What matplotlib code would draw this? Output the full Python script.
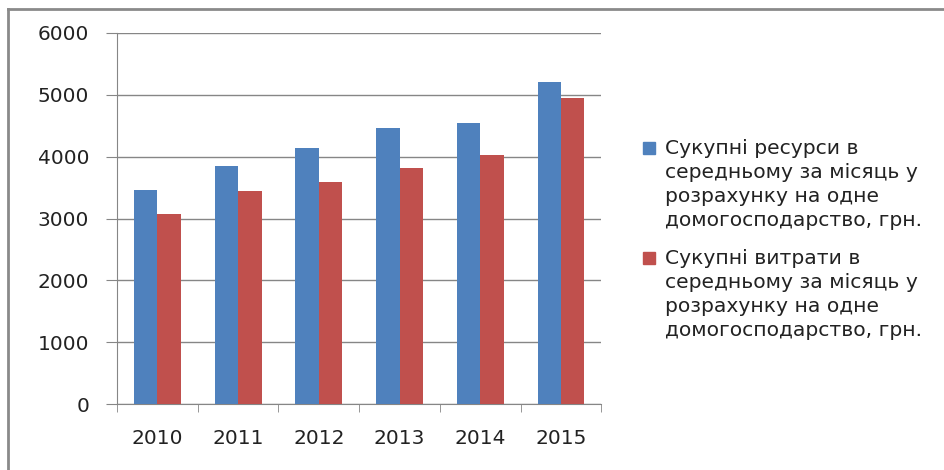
import numpy as np
import matplotlib.pyplot as plt
from matplotlib.lines import Line2D
from matplotlib.patches import Rectangle

years = ['2010', '2011', '2012', '2013', '2014', '2015']
resources = [3460, 3850, 4140, 4470, 4550, 5215]
expenses = [3075, 3450, 3590, 3810, 4035, 4945]
labels = ['Сукупні ресурси в\nсередньому за місяць у\nрозрахунку на одне\nдомогосподарство, грн.',
          'Сукупні витрати в\nсередньому за місяць у\nрозрахунку на одне\nдомогосподарство, грн.']
colors = ['#4F81BD', '#C0504D']

plt.rcParams['font.family'] = ['DejaVu Sans']
W, H = 944, 470
fig = plt.figure(figsize=(W / 100, H / 100), dpi=100)
ax = fig.add_axes([0.124, 0.1404, 0.513, 0.7894])

x = np.arange(len(years))
w = 0.29
ax.bar(x - w / 2, resources, w, color=colors[0], zorder=3)
ax.bar(x + w / 2, expenses, w, color=colors[1], zorder=3)

ax.set_xlim(-0.5, len(years) - 0.5)
ax.set_ylim(0, 6000)
ax.set_yticks(range(0, 6001, 1000))
ax.set_xticks(x)
ax.set_xticklabels(years)
ax.set_xticks(np.arange(-0.5, len(years)), minor=True)
ax.tick_params(axis='x', which='major', length=0, pad=18, labelsize=14.5, labelcolor='#222222')
ax.tick_params(axis='x', which='minor', length=6, color='#868686')
ax.tick_params(axis='y', length=8, color='#868686', labelsize=14.5, labelcolor='#222222', pad=12)
ax.grid(axis='y', color='#868686', linewidth=1, zorder=0)
for s in ['top', 'right']:
    ax.spines[s].set_visible(False)
for s in ['left', 'bottom']:
    ax.spines[s].set_color('#868686')

# legend drawn by hand: square beside the first line of each entry
for i, (lab, c) in enumerate(zip(labels, colors)):
    top = 139 + i * 110
    fig.add_artist(Rectangle((643 / W, 1 - (top + 15) / H), 12 / W, 12 / H,
                             color=c, transform=fig.transFigure))
    fig.text(665 / W, 1 - top / H, lab, ha='left', va='top', fontsize=14.6,
             linespacing=1.33, color='#222222')

# outer chart frame
fig.add_artist(Line2D([0.0085, 1.0], [0.981, 0.981], color='#8a8a8a', linewidth=2))
fig.add_artist(Line2D([0.0085, 0.0085], [0.0, 0.981], color='#8a8a8a', linewidth=2))

fig.savefig('out.png', dpi=100)
